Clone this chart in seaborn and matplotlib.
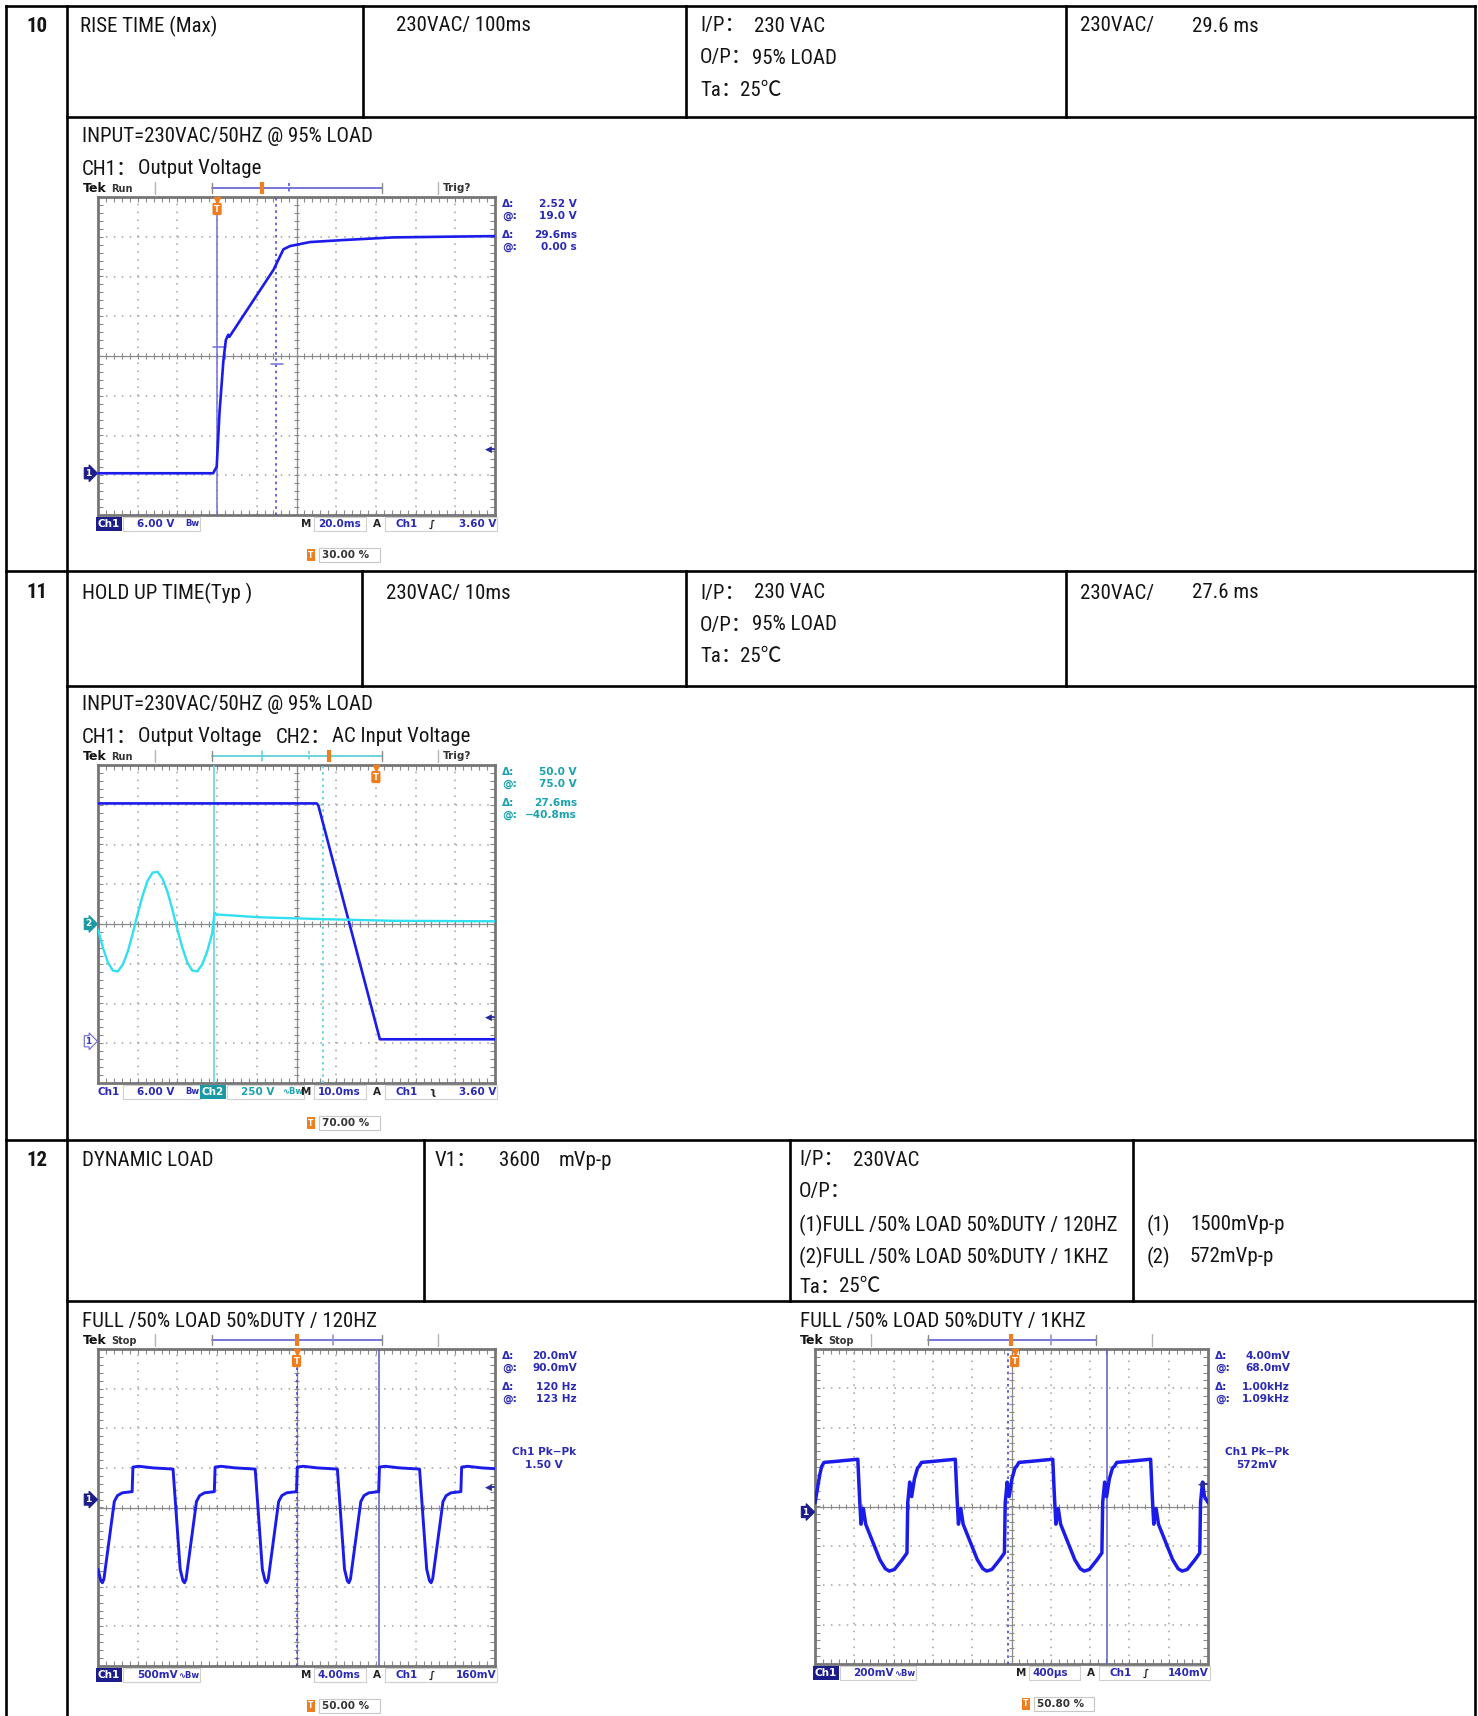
import os
import numpy as np
import pandas as pd
import matplotlib
matplotlib.use("Agg")
import matplotlib.pyplot as plt
import matplotlib.transforms as mtrans
from matplotlib.patches import Rectangle
from matplotlib import font_manager as fm
from matplotlib.font_manager import FontProperties
import seaborn as sns

# ---------------- values ----------------
# Row 10 - rise time: CH1 output voltage (time from left edge of screen, ms ; volts)
rise_t_ms = [0.0, 58.0, 59.8, 61.2, 63.2, 64.4, 65.6, 66.2, 88.4, 93.4, 96.8,
             106.8, 123.4, 148.6, 173.8, 200.0]
rise_v = [0.0, 0.0, 1.0, 9.1, 17.1, 20.1, 20.9, 20.6, 30.7, 33.8, 34.3,
          34.9, 35.2, 35.6, 35.7, 35.8]
rise_cursor_t_ms = [60.0, 89.6]
rise_cursor_v = [19.0, 16.48]

# Row 11 - hold up time
hold_ch1_t_ms = [0.0, 55.1, 55.5, 71.0, 100.0]
hold_ch1_v = [35.9, 35.9, 35.6, 0.3, 0.3]
hold_ch2_t_ms = [0.0, 1.25, 2.5, 3.75, 5.0, 6.25, 7.5, 8.75,
                 10.0, 11.25, 12.5, 13.75, 15.0, 16.25, 17.5, 18.75,
                 20.0, 21.25, 22.5, 23.75, 25.0, 26.25, 27.5, 28.75,
                 29.2, 29.4, 29.9, 40.8, 57.6, 74.4, 100.0]
hold_ch2_v = [-35, -150, -243, -293, -298, -255, -173, -60,
              65, 180, 273, 323, 328, 285, 203, 90,
              -35, -150, -243, -293, -298, -255, -173, -60,
              38, 70, 60, 42, 30, 20, 17]
hold_cursor_t_ms = [29.2, 56.8]

# Row 12 - dynamic load 120 Hz (ms ; mV)
dyn120_t_ms = [0.0, 0.28, 0.44, 0.60, 1.64, 1.96, 2.44, 3.44,
               3.52, 4.12, 5.52, 7.56, 8.28, 8.56, 8.72, 8.88, 9.92, 10.24, 10.72, 11.72,
               11.80, 12.40, 13.80, 15.84, 16.56, 16.84, 17.00, 17.16, 18.20, 18.52, 19.00, 20.00,
               20.08, 20.68, 22.08, 24.12, 24.84, 25.12, 25.28, 25.44, 26.48, 26.80, 27.28, 28.28,
               28.36, 28.96, 30.36, 32.40, 33.12, 33.40, 33.56, 33.72, 34.76, 35.08, 35.56, 36.56,
               36.64, 37.24, 38.64, 40.00]
dyn120_mv = [-880, -1025, -1050, -1000, -25, 50, 85, 100,
             410, 420, 400, 385, -880, -1025, -1050, -1000, -25, 50, 85, 100,
             410, 420, 400, 385, -880, -1025, -1050, -1000, -25, 50, 85, 100,
             410, 420, 400, 385, -880, -1025, -1050, -1000, -25, 50, 85, 100,
             410, 420, 400, 385, -880, -1025, -1050, -1000, -25, 50, 85, 100,
             410, 420, 400, 390]
dyn120_cursor_t_ms = [20.0, 28.33]

# Row 12 - dynamic load 1 kHz (us ; mV)
dyn1k_t_us = [0, 48,
              68, 92, 228, 436, 452, 468, 492, 516, 588, 660, 716, 756, 808, 888, 936, 944, 964, 984, 1012, 1044,
              1060, 1084, 1220, 1428, 1444, 1460, 1484, 1508, 1580, 1652, 1708, 1748, 1800, 1880, 1928, 1936, 1956, 1976, 2004, 2036,
              2052, 2076, 2212, 2420, 2436, 2452, 2476, 2500, 2572, 2644, 2700, 2740, 2792, 2872, 2920, 2928, 2948, 2968, 2996, 3028,
              3048, 3072, 3208, 3416, 3432, 3448, 3472, 3496, 3568, 3640, 3696, 3736, 3788, 3868, 3916, 3924, 3944, 3964, 4000]
dyn1k_mv = [46, 188,
            232, 252, 258, 268, 88, -62, 18, -62, -152, -242, -288, -300, -292, -242, -208, 48, 152, 78, 168, 224,
            232, 252, 258, 268, 88, -62, 18, -62, -152, -242, -288, -300, -292, -242, -208, 48, 152, 78, 168, 224,
            232, 252, 258, 268, 88, -62, 18, -62, -152, -242, -288, -300, -292, -242, -208, 48, 152, 78, 168, 224,
            232, 252, 258, 268, 88, -62, 18, -62, -152, -242, -288, -300, -292, -242, -208, 48, 152, 78, 48]
dyn1k_cursor_t_us = [1968, 2968]

# scope settings (per division, ground position in divisions, trigger position in % of screen)
scope_tdiv = [20.0, 10.0, 4.0, 400.0]
scope_vdiv = [6.0, 6.0, 500.0, 200.0]
scope_gnd_div = [-2.95, -2.95, 0.2, -0.14]
ch2_vdiv, ch2_gnd_div = 250.0, 0.0
scope_trig_pct = [30.0, 70.0, 50.0, 50.8]
scope_trig_level = [3.6, 3.6, 160.0, 140.0]

# ---------------- style ----------------
sns.set_theme(style="white")
plt.rcParams["font.family"] = ["DejaVu Sans", "Noto Sans CJK SC"]


def _norm(s):
    return s.lower().replace("_", "").replace("-", "").replace(" ", "")


_entries = {}
for _f in fm.fontManager.ttflist:
    _entries.setdefault(_norm(os.path.splitext(os.path.basename(_f.fname))[0]), _f)

_prefs = [("LiberationSansNarrow-Regular", 14.5), ("ArialNarrow", 14.5),
          ("RobotoCondensed-Regular", 15.0), ("NotoSans-Condensed", 13.8),
          ("NotoSansCondensed-Regular", 13.8), ("OpenSansCondensed-Regular", 13.8),
          ("OpenSans_Condensed-Regular", 13.8), ("DejaVuSansCondensed", 12.4)]
_entry, TXT_SIZE = None, 12.6
for _p, _s in _prefs:
    if _norm(_p) in _entries:
        _entry, TXT_SIZE = _entries[_norm(_p)], _s
        break
if _entry is None:
    for _k, _f in _entries.items():
        if ("condensed" in _k or "narrow" in _k) and not any(
                w in _k for w in ("bold", "italic", "light", "thin", "black", "medium", "semi", "extra", "oblique")):
            _entry, TXT_SIZE = _f, 13.8
            break

if _entry is not None:
    FAM = [_entry.name, "Noto Sans CJK SC", "DejaVu Sans"]
    STRETCH = _entry.stretch
else:
    FAM = ["Liberation Sans", "Noto Sans CJK SC", "DejaVu Sans"]
    STRETCH = "normal"
FP = FontProperties(family=FAM, stretch=STRETCH, size=TXT_SIZE)
FPB = FontProperties(family=FAM, stretch=STRETCH, size=TXT_SIZE, weight="bold")
SC_FAMILY = ["DejaVu Sans", "Noto Sans CJK SC"]

BLUE = "#1b1bea"
CH2C = "#30dff0"
TXTBLUE = "#2a2ab4"
TEAL = "#1aa3ae"
CUR1 = "#7070dc"
CUR2 = "#58d0da"
ORANGE = "#f07d1e"
GRIDC = "#a0a0a0"
CENTC = "#8a8a8a"

W, H = 1478, 1716
fig = plt.figure(figsize=(W / 100, H / 100), dpi=100)
page = fig.add_axes([0, 0, 1, 1])
page.set_xlim(0, W)
page.set_ylim(H, 0)
page.axis("off")


def rect_px(l, t, r, b):
    return [l / W, 1 - b / H, (r - l) / W, (b - t) / H]


# ---------------- table ----------------
LW = 1.9
XL, XN, XR, YT = 6, 67, 1475, 6


def hl(y, x0, x1):
    page.plot([x0, x1], [y, y], color="black", lw=LW, solid_capstyle="projecting")


def vl(x, y0, y1):
    page.plot([x, x], [y0, y1], color="black", lw=LW, solid_capstyle="projecting")


vl(XL, YT, H)
vl(XR, YT, H)
vl(XN, YT, H)
hl(YT, XL, XR)
hl(117, XN, XR)
hl(571, XL, XR)
hl(686, XN, XR)
hl(1140, XL, XR)
hl(1301, XN, XR)
for x in (363, 686, 1066):
    vl(x, YT, 117)
for x in (362, 686, 1066):
    vl(x, 571, 686)
for x in (424, 790, 1133):
    vl(x, 1140, 1301)


def tt(x, y, s, bold=False, **kw):
    base = dict(fontproperties=FPB if bold else FP, va="center", ha="left", color="#141414")
    base.update(kw)
    page.text(x, y, s, **base)


# row 10
tt(37, 26, "10", bold=True, ha="center")
tt(80, 26, "RISE TIME (Max)")
tt(396, 26, "230VAC/ 100ms")
tt(700, 26, "I/P：")
tt(754, 26, "230 VAC")
tt(700, 58, "O/P：")
tt(752, 58, "95% LOAD")
tt(700, 90, "Ta：")
tt(740, 90, "25℃")
tt(1080, 26, "230VAC/")
tt(1192, 26, "29.6 ms")
tt(82, 137, "INPUT=230VAC/50HZ @ 95% LOAD")
tt(82, 169, "CH1：")
tt(138, 169, "Output Voltage")

# row 11
tt(37, 593, "11", bold=True, ha="center")
tt(82, 593, "HOLD UP TIME(Typ )")
tt(386, 593, "230VAC/ 10ms")
tt(700, 593, "I/P：")
tt(754, 593, "230 VAC")
tt(700, 625, "O/P：")
tt(752, 625, "95% LOAD")
tt(700, 656, "Ta：")
tt(740, 656, "25℃")
tt(1080, 593, "230VAC/")
tt(1192, 593, "27.6 ms")
tt(82, 705, "INPUT=230VAC/50HZ @ 95% LOAD")
tt(82, 737, "CH1：")
tt(138, 737, "Output Voltage")
tt(276, 737, "CH2：")
tt(332, 737, "AC Input Voltage")

# row 12
tt(37, 1160, "12", bold=True, ha="center")
tt(82, 1160, "DYNAMIC LOAD")
tt(435, 1160, "V1：")
tt(499, 1160, "3600")
tt(559, 1160, "mVp-p")
tt(799, 1160, "I/P：")
tt(853, 1160, "230VAC")
tt(799, 1192, "O/P：")
tt(799, 1225, "(1)FULL /50% LOAD 50%DUTY / 120HZ")
tt(799, 1257, "(2)FULL /50% LOAD 50%DUTY / 1KHZ")
tt(799, 1287, "Ta：")
tt(839, 1287, "25℃")
tt(1147, 1225, "(1)")
tt(1190, 1225, "1500mVp-p")
tt(1147, 1257, "(2)")
tt(1190, 1257, "572mVp-p")
tt(82, 1322, "FULL /50% LOAD 50%DUTY / 120HZ")
tt(800, 1322, "FULL /50% LOAD 50%DUTY / 1KHZ")


# ---------------- scope helpers ----------------
def st(x, y, s, size=7.5, color=TXTBLUE, ha="left", weight="bold", **kw):
    page.text(x, y, s, family=SC_FAMILY, fontsize=size, fontweight=weight,
              color=color, ha=ha, va="center", **kw)


def graticule(L, T, R, B):
    g = fig.add_axes(rect_px(L, T, R, B))
    g.set_xlim(0, 10)
    g.set_ylim(-4, 4)
    g.set_xticks([])
    g.set_yticks([])
    g.set_facecolor("white")
    for s in g.spines.values():
        s.set_color("#767676")
        s.set_linewidth(2.0)
    for v in (1, 2, 3, 4, 6, 7, 8, 9):
        g.axvline(v, color=GRIDC, lw=1.1, ls=(0, (1, 4.2)))
    for v in (-3, -2, -1, 1, 2, 3):
        g.axhline(v, color=GRIDC, lw=1.1, ls=(0, (1, 4.2)))
    g.axvline(5, color=CENTC, lw=0.9)
    g.axhline(0, color=CENTC, lw=0.9)
    mx = np.arange(0.2, 10.0, 0.2)
    my = np.arange(-3.8, 4.0, 0.2)
    g.vlines(mx, -0.07, 0.07, color=CENTC, lw=0.8)
    g.hlines(my, 4.93, 5.07, color=CENTC, lw=0.8)
    g.vlines(mx, -4, -3.88, color=CENTC, lw=0.8)
    g.vlines(mx, 3.88, 4, color=CENTC, lw=0.8)
    g.hlines(my, 0, 0.12, color=CENTC, lw=0.8)
    g.hlines(my, 9.88, 10, color=CENTC, lw=0.8)
    return g


def data_axes(L, T, R, B, tdiv, vdiv, gnd):
    d = fig.add_axes(rect_px(L, T, R, B), facecolor="none")
    return d, (0, 10 * tdiv), ((-4 - gnd) * vdiv, (4 - gnd) * vdiv)


def finish(d, xlim, ylim):
    d.set_xlim(*xlim)
    d.set_ylim(*ylim)
    d.axis("off")


def trace(d, t, v, color, lw=2.0):
    df = pd.DataFrame({"t": t, "v": v})
    sns.lineplot(data=df, x="t", y="v", ax=d, color=color, linewidth=lw,
                 sort=False, estimator=None, legend=False)


def trig_marker(d, L, T, R, B, trig_pct):
    fx = trig_pct / 100.0
    h = B - T
    d.plot([fx], [1 - 2.5 / h], marker="v", ms=4.5, color=ORANGE, transform=d.transAxes, clip_on=False)
    d.text(fx, 1 - 12 / h, "T", transform=d.transAxes, ha="center", va="center",
           fontsize=6, fontweight="bold", color="white", family=SC_FAMILY, clip_on=False,
           bbox=dict(boxstyle="round,pad=0.2", fc=ORANGE, ec="none"))


def frame(L, T, R, B, run, trig_q, barc, marks):
    k = (R - L) / 397.0
    X = lambda o: L + o * k
    y = T - 9
    st(L - 15, y, "Tek", size=9, color="#111111")
    st(L + 13 * k, y + 0.5, run, size=7, color="#333333")
    for o in (57, 340):
        page.plot([X(o), X(o)], [T - 15, T - 3], color="#b4b4b4", lw=1.0)
    page.plot([X(114), X(284)], [y, y], color=barc, lw=1.3)
    for o in (114, 284):
        page.plot([X(o), X(o)], [y - 5, y + 5], color="#8a8a8a", lw=1.0)
    for o, c, ls in marks:
        if c == ORANGE:
            page.plot([X(o)], [y], marker="|", ms=9, mew=3, color=ORANGE)
        else:
            page.plot([X(o), X(o)], [y - 5, y + 5], color=c, lw=1.1, ls=ls)
    if trig_q:
        st(X(345), y, "Trig?", size=7.5, color="#333333")


def readouts(R, T, rows, color, pk=None):
    ys = (T + 7, T + 19, T + 38, T + 50)
    for (lab, val), yy in zip(rows, ys):
        st(R + 7, yy, lab, size=7.6, color=color)
        st(R + 82, yy, val, size=7.6, color=color, ha="right")
    if pk is not None:
        st(R + 49, T + 103, "Ch1 Pk−Pk", size=7.6, color=color, ha="center")
        st(R + 49, T + 116, pk, size=7.6, color=color, ha="center")


def status_row(L, R, B, chans, tb, src, slope, level, pct):
    k = (R - L) / 397.0
    X = lambda o: L + o * k
    y = B + 9
    for (o, lab, val, icon, hlit, col, hlc) in chans:
        if hlit:
            st(X(o + 11), y, lab, color="white", ha="center",
               bbox=dict(boxstyle="square,pad=0.15", fc=hlc, ec="none"))
        else:
            st(X(o + 11), y, lab, color=col, ha="center")
        page.add_patch(Rectangle((X(o + 25), y - 7), X(o + 102) - X(o + 25), 14,
                                 fill=False, ec="#d0d0d0", lw=0.8))
        st(X(o + 39), y, val, color=col)
        st(X(o + 101), y, icon, color=col, ha="right", size=6)
    st(X(208), y, "M", color="#222222", ha="center")
    page.add_patch(Rectangle((X(216), y - 7), X(268) - X(216), 14, fill=False, ec="#d0d0d0", lw=0.8))
    st(X(220), y, tb, color=TXTBLUE)
    st(X(279), y, "A", color="#222222", ha="center")
    page.add_patch(Rectangle((X(287), y - 7), X(399) - X(287), 14, fill=False, ec="#d0d0d0", lw=0.8))
    st(X(298), y, src, color=TXTBLUE)
    st(X(334), y, slope, color="#222222", ha="center")
    st(X(398), y, level, color=TXTBLUE, ha="right")
    yp = B + 40
    st(X(213), yp, "T", size=5.5, color="white", ha="center",
       bbox=dict(boxstyle="square,pad=0.15", fc=ORANGE, ec="none"))
    page.add_patch(Rectangle((X(221), yp - 7), X(282) - X(221), 14, fill=False, ec="#c8c8c8", lw=0.8))
    st(X(224), yp, pct, color="#333333")


def ground_marker(d, val, label, fc, tc, ec):
    blend = mtrans.blended_transform_factory(d.transAxes, d.transData)
    d.text(-0.024, val, label, transform=blend, ha="center", va="center",
           fontsize=6.5, fontweight="bold", color=tc, family=SC_FAMILY, clip_on=False,
           bbox=dict(boxstyle="rarrow,pad=0.12", fc=fc, ec=ec, lw=0.8))


def trig_arrow(d, level):
    blend = mtrans.blended_transform_factory(d.transAxes, d.transData)
    d.text(0.992, level, "◀", transform=blend, ha="right", va="center",
           fontsize=6.5, color="#2a2aa0", family=SC_FAMILY)
    d.plot([0.985, 0.997], [level, level], color="#2a2aa0", lw=1.3, transform=blend)


# ---------------- scope 1: rise time ----------------
L, T, R, B = 98, 197, 495, 515
graticule(L, T, R, B)
d, xl, yl = data_axes(L, T, R, B, scope_tdiv[0], scope_vdiv[0], scope_gnd_div[0])
d.axvline(rise_cursor_t_ms[0], color=CUR1, lw=1.1)
d.axvline(rise_cursor_t_ms[1], color="#4848dc", lw=1.2, ls=(0, (1.5, 2.2)))
d.plot([rise_cursor_t_ms[0] - 2.2, rise_cursor_t_ms[0] + 4.4], [rise_cursor_v[0]] * 2, color=CUR1, lw=1.1)
d.plot([rise_cursor_t_ms[1] - 2.2, rise_cursor_t_ms[1] + 3.4], [rise_cursor_v[1]] * 2, color=CUR1, lw=1.1)
trace(d, rise_t_ms, rise_v, BLUE, 1.9)
finish(d, xl, yl)
ground_marker(d, 0.0, "1", "#1c1c8a", "white", "#1c1c8a")
trig_arrow(d, scope_trig_level[0])
trig_marker(d, L, T, R, B, scope_trig_pct[0])
frame(L, T, R, B, "Run", True, "#6b6bd6",
      [(164, ORANGE, "-"), (191, "#4848dc", (0, (2, 1.5)))])
readouts(R, T, [("Δ:", "2.52 V"), ("@:", "19.0 V"), ("Δ:", "29.6ms"), ("@:", "0.00 s")], TXTBLUE)
status_row(L, R, B, [(0, "Ch1", "6.00 V", "Bw", True, TXTBLUE, "#1c1c8a")],
           "20.0ms", "Ch1", "∫", "3.60 V", "30.00 %")

# ---------------- scope 2: hold up time ----------------
L, T, R, B = 98, 765, 495, 1083
graticule(L, T, R, B)
d, xl, yl = data_axes(L, T, R, B, scope_tdiv[1], scope_vdiv[1], scope_gnd_div[1])
d.axvline(hold_cursor_t_ms[0], color=CUR2, lw=1.1)
d.axvline(hold_cursor_t_ms[1], color=CUR2, lw=1.2, ls=(0, (1.5, 2.2)))
trace(d, hold_ch1_t_ms, hold_ch1_v, BLUE, 1.9)
finish(d, xl, yl)
ground_marker(d, 0.0, "1", "white", "#3a3ab8", "#6a6ad0")
trig_arrow(d, scope_trig_level[1])
trig_marker(d, L, T, R, B, scope_trig_pct[1])
d2, xl2, yl2 = data_axes(L, T, R, B, scope_tdiv[1], ch2_vdiv, ch2_gnd_div)
trace(d2, hold_ch2_t_ms, hold_ch2_v, CH2C, 1.7)
finish(d2, xl2, yl2)
ground_marker(d2, 0.0, "2", "#1a9aa4", "white", "#1a9aa4")
frame(L, T, R, B, "Run", True, "#5fd0d8",
      [(164, "#5fd0d8", "-"), (211, "#5fd0d8", (0, (2, 1.5))), (231, ORANGE, "-")])
readouts(R, T, [("Δ:", "50.0 V"), ("@:", "75.0 V"), ("Δ:", "27.6ms"), ("@:", "−40.8ms")], TEAL)
status_row(L, R, B, [(0, "Ch1", "6.00 V", "Bw", False, TXTBLUE, None),
                     (104, "Ch2", "250 V", "∿Bw", True, TEAL, "#1a9aa4")],
           "10.0ms", "Ch1", "ʅ", "3.60 V", "70.00 %")

# ---------------- scope 3: dynamic 120 Hz ----------------
L, T, R, B = 98, 1349, 495, 1666
graticule(L, T, R, B)
d, xl, yl = data_axes(L, T, R, B, scope_tdiv[2], scope_vdiv[2], scope_gnd_div[2])
d.axvline(dyn120_cursor_t_ms[0], color="#4848c8", lw=1.2, ls=(0, (1.5, 2.2)))
d.axvline(dyn120_cursor_t_ms[1], color="#5a5ac4", lw=1.1)
trace(d, dyn120_t_ms, dyn120_mv, BLUE, 2.1)
finish(d, xl, yl)
ground_marker(d, 0.0, "1", "#1c1c8a", "white", "#1c1c8a")
trig_arrow(d, scope_trig_level[2])
trig_marker(d, L, T, R, B, scope_trig_pct[2])
frame(L, T, R, B, "Stop", False, "#6b6bd6",
      [(199, ORANGE, "-"), (235, "#8a8ad0", "-")])
readouts(R, T, [("Δ:", "20.0mV"), ("@:", "90.0mV"), ("Δ:", "120 Hz"), ("@:", "123 Hz")], TXTBLUE, pk="1.50 V")
status_row(L, R, B, [(0, "Ch1", "500mV", "∿Bw", True, TXTBLUE, "#1c1c8a")],
           "4.00ms", "Ch1", "∫", "160mV", "50.00 %")

# ---------------- scope 4: dynamic 1 kHz ----------------
L, T, R, B = 815, 1349, 1208, 1664
graticule(L, T, R, B)
d, xl, yl = data_axes(L, T, R, B, scope_tdiv[3], scope_vdiv[3], scope_gnd_div[3])
d.axvline(dyn1k_cursor_t_us[0], color="#4848c8", lw=1.2, ls=(0, (1.5, 2.2)))
d.axvline(dyn1k_cursor_t_us[1], color="#5a5ac4", lw=1.1)
trace(d, dyn1k_t_us, dyn1k_mv, BLUE, 2.5)
finish(d, xl, yl)
ground_marker(d, 0.0, "1", "#1c1c8a", "white", "#1c1c8a")
trig_arrow(d, scope_trig_level[3])
trig_marker(d, L, T, R, B, scope_trig_pct[3])
frame(L, T, R, B, "Stop", False, "#6b6bd6",
      [(198, ORANGE, "-"), (238, "#8a8ad0", "-")])
readouts(R, T, [("Δ:", "4.00mV"), ("@:", "68.0mV"), ("Δ:", "1.00kHz"), ("@:", "1.09kHz")], TXTBLUE, pk="572mV")
status_row(L, R, B, [(0, "Ch1", "200mV", "∿Bw", True, TXTBLUE, "#1c1c8a")],
           "400µs", "Ch1", "∫", "140mV", "50.80 %")

fig.savefig("out.png", dpi=100)
